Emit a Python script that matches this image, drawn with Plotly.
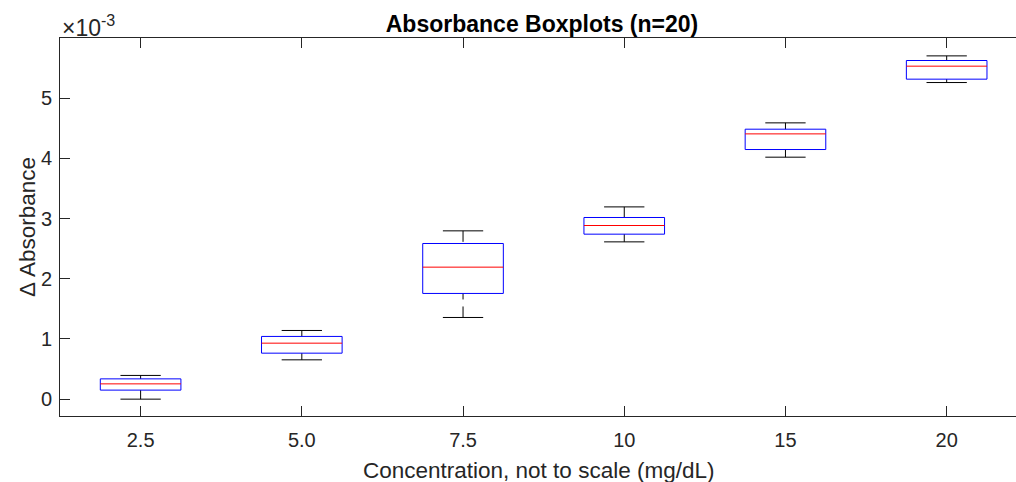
import plotly.graph_objects as go

# Box statistics per concentration, in units of 1e-3 absorbance
concentrations = ["2.5", "5.0", "7.5", "10", "15", "20"]
whisker_low = [0.000, 0.653, 1.357, 2.613, 4.020, 5.260]
q1 = [0.150, 0.764, 1.756, 2.741, 4.147, 5.316]
median = [0.254, 0.930, 2.193, 2.885, 4.407, 5.532]
q3 = [0.337, 1.042, 2.586, 3.018, 4.485, 5.626]
whisker_high = [0.394, 1.141, 2.796, 3.194, 4.590, 5.703]
y_ticks = [0, 1, 2, 3, 4, 5]

positions = list(range(1, len(concentrations) + 1))
BOX_HALF = 0.25   # half box width (box width 0.5)
CAP_HALF = 0.125  # half whisker-cap width

FONT = "Liberation Sans, Arial, Helvetica, sans-serif"
AXIS_COLOR = "#262626"

box_x, box_y = [], []
med_x, med_y = [], []
wh_x, wh_y = [], []
cap_x, cap_y = [], []
for p, lo, a, m, b, hi in zip(positions, whisker_low, q1, median, q3, whisker_high):
    box_x += [p - BOX_HALF, p + BOX_HALF, p + BOX_HALF, p - BOX_HALF, p - BOX_HALF, None]
    box_y += [a, a, b, b, a, None]
    med_x += [p - BOX_HALF, p + BOX_HALF, None]
    med_y += [m, m, None]
    # whiskers run from the whisker end toward the box
    wh_x += [p, p, None, p, p, None]
    wh_y += [hi, b, None, lo, a, None]
    cap_x += [p - CAP_HALF, p + CAP_HALF, None, p - CAP_HALF, p + CAP_HALF, None]
    cap_y += [hi, hi, None, lo, lo, None]

fig = go.Figure()
fig.add_trace(go.Scatter(x=wh_x, y=wh_y, mode="lines",
                         line=dict(color="black", width=1, dash="11px,7px"),
                         hoverinfo="skip"))
fig.add_trace(go.Scatter(x=cap_x, y=cap_y, mode="lines",
                         line=dict(color="black", width=1), hoverinfo="skip"))
fig.add_trace(go.Scatter(x=box_x, y=box_y, mode="lines",
                         line=dict(color="#0000ff", width=1), hoverinfo="skip"))
fig.add_trace(go.Scatter(x=med_x, y=med_y, mode="lines",
                         line=dict(color="#ff0000", width=1), hoverinfo="skip"))

fig.update_layout(
    width=1016, height=482,
    margin=dict(l=60, r=0, t=38, b=66),
    paper_bgcolor="white", plot_bgcolor="white",
    showlegend=False,
    font=dict(family=FONT, color=AXIS_COLOR, size=20),
    title=dict(text="<b>Absorbance Boxplots (n=20)</b>",
               x=542 / 1016, xanchor="center", y=1 - 23.5 / 482, yanchor="middle",
               font=dict(family=FONT, size=23, color="black")),
    xaxis=dict(
        range=[0.5, 6.43],
        tickmode="array", tickvals=positions, ticktext=concentrations,
        ticks="inside", ticklen=10, tickwidth=1, tickcolor=AXIS_COLOR,
        showline=True, linecolor=AXIS_COLOR, linewidth=1, mirror="ticks",
        showgrid=False, zeroline=False,
        tickfont=dict(family=FONT, size=20, color=AXIS_COLOR),
        ticklabelstandoff=6,
    ),
    yaxis=dict(
        range=[-0.28, 6.0],
        tickmode="array", tickvals=y_ticks, ticktext=[str(t) for t in y_ticks],
        ticks="inside", ticklen=10, tickwidth=1, tickcolor=AXIS_COLOR,
        showline=True, linecolor=AXIS_COLOR, linewidth=1, mirror=False,
        showgrid=False, zeroline=False,
        tickfont=dict(family=FONT, size=20, color=AXIS_COLOR),
        ticklabelstandoff=3,
    ),
    annotations=[
        dict(text="×10<sup>-3</sup>", xref="paper", yref="paper", x=0.0, y=1,
             xanchor="left", yanchor="middle", yshift=12, showarrow=False,
             font=dict(family=FONT, size=23, color=AXIS_COLOR)),
        dict(text="Concentration, not to scale (mg/dL)", xref="paper", yref="paper",
             x=0.5, y=0, xanchor="center", yanchor="middle", yshift=-54,
             showarrow=False, font=dict(family=FONT, size=22.5, color=AXIS_COLOR)),
        dict(text="Δ Absorbance", xref="paper", yref="paper",
             x=-33 / 956, y=0.5, xanchor="center", yanchor="middle", textangle=-90,
             showarrow=False, font=dict(family=FONT, size=22.5, color=AXIS_COLOR)),
    ],
)

fig.write_html("out.html")
